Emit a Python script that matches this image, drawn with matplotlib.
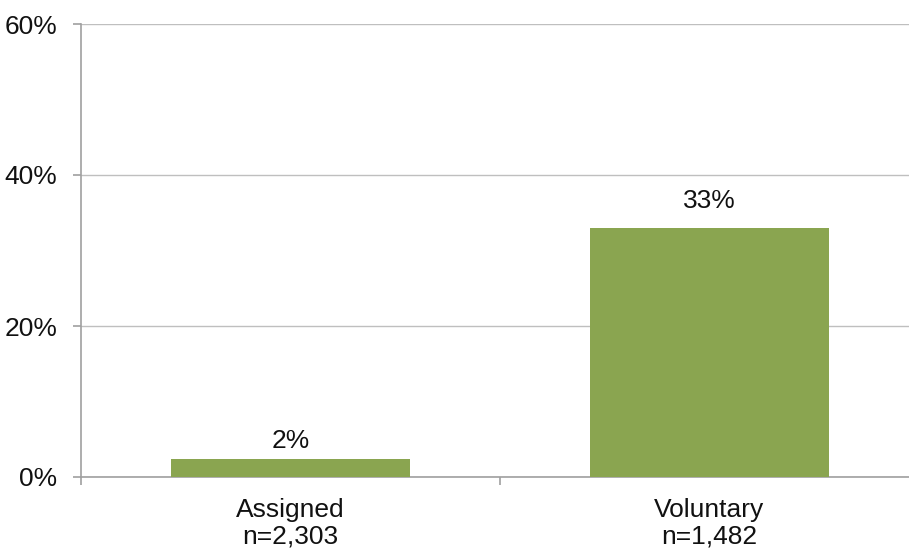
import matplotlib.pyplot as plt
from matplotlib.ticker import FixedLocator

plt.rcParams['font.family'] = ['Liberation Sans', 'DejaVu Sans']

categories = ["Assigned\nn=2,303", "Voluntary\nn=1,482"]
values = [2.4, 33]
labels = ["2%", "33%"]
y_ticks = [0, 20, 40, 60]
y_tick_labels = ["0%", "20%", "40%", "60%"]

bar_color = "#8AA550"
grid_color = "#BFBFBF"
axis_color = "#A0A0A0"
label_offsets = [4, 11]  # points above each bar, as placed in the original

fig = plt.figure(figsize=(9.09, 5.52), dpi=100)
# axes runs a bit past the right edge, as in the original
ax = fig.add_axes([81 / 909, 1 - 477 / 552, 838 / 909, 453 / 552])

x = range(len(categories))
bars = ax.bar(x, values, width=0.57, color=bar_color, zorder=3)

for bar, lab, off in zip(bars, labels, label_offsets):
    ax.annotate(lab, (bar.get_x() + bar.get_width() / 2, bar.get_height()),
                xytext=(0, off), textcoords="offset points",
                ha="center", va="bottom", fontsize=19, color="#111111")

ax.set_xlim(-0.5, 1.5)
ax.set_ylim(0, 60)
ax.set_yticks(y_ticks)
ax.set_yticklabels(y_tick_labels, fontsize=19, color="#111111")
ax.yaxis.grid(True, color=grid_color, linewidth=1, zorder=0)

ax.set_xticks(list(x))
ax.set_xticklabels(categories, fontsize=19, color="#111111", linespacing=1.15)
ax.xaxis.set_minor_locator(FixedLocator([-0.5, 0.5, 1.5]))
ax.tick_params(axis="x", which="major", length=0, pad=15)
ax.tick_params(axis="x", which="minor", length=6, color=axis_color, width=1.2)
ax.tick_params(axis="y", length=6, color=axis_color, width=1.2, pad=11)

for side in ["top", "right"]:
    ax.spines[side].set_visible(False)
for side in ["left", "bottom"]:
    ax.spines[side].set_color(axis_color)
    ax.spines[side].set_linewidth(1.2)

plt.savefig("out.png", dpi=100)
